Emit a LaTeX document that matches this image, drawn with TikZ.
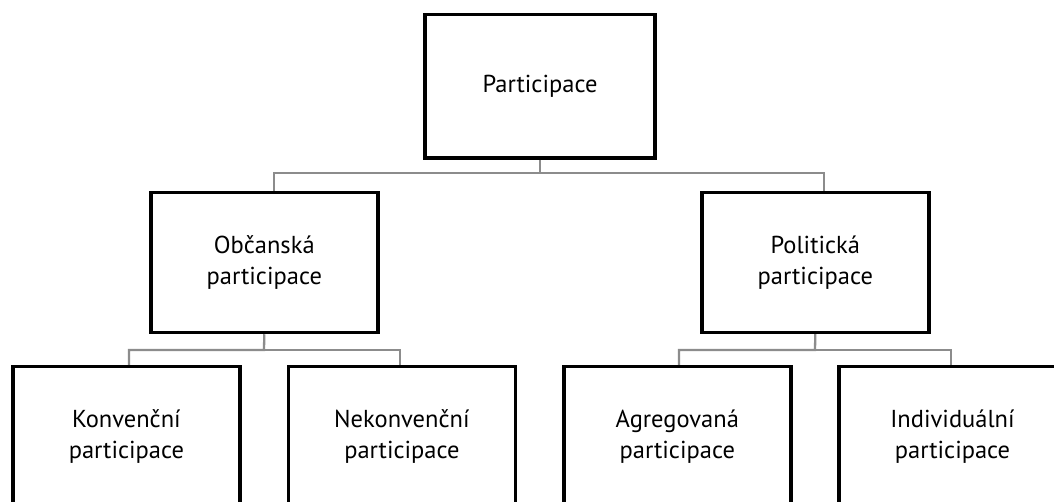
\documentclass[tikz,border=0pt]{standalone}
\usepackage{fontspec}
\setmainfont{PT Sans}
\begin{document}
\begin{tikzpicture}[x=1pt,y=-1pt,
  box/.style={draw=black, line width=3.5pt, fill=white, inner sep=0pt,
    minimum width=227pt, minimum height=140pt, align=center,
    font=\fontsize{24.5}{31.5}\selectfont},
  conn/.style={draw=black!45, line width=2.3pt}]
\useasboundingbox (0,0) rectangle (1054,502);
\clip (0,0) rectangle (1054,502);
\fill[white] (0,0) rectangle (1054,502);
\coordinate (j0) at (540,173);
\coordinate (j1) at (264,350);
\coordinate (j2) at (815,350);
\node[box, minimum width=230pt, minimum height=143.5pt] (top) at (540,86.5) {Participace};
\node[box] (obc) at (264.3,262.5) {Občanská\\participace};
\node[box] (pol) at (815.3,262.4) {Politická\\participace};
\node[box] (kon) at (126.4,436.5) {Konvenční\\participace};
\node[box] (nek) at (401.9,436.5) {Nekonvenční\\participace};
\node[box] (agr) at (677.3,436.5) {Agregovaná\\participace};
\node[box] (ind) at (952.5,436.5) {Individuální\\participace};
\draw[conn] (top.south) -- (j0) -| ([xshift=9.7pt]obc.north);
\draw[conn] (j0) -| ([xshift=8.7pt]pol.north);
\draw[conn] (obc.south) -- (j1) -| ([xshift=2.6pt]kon.north);
\draw[conn] (j1) -| ([xshift=-1.9pt]nek.north);
\draw[conn] (pol.south) -- (j2) -| ([xshift=1.7pt]agr.north);
\draw[conn] (j2) -| ([xshift=-1.5pt]ind.north);
\end{tikzpicture}
\end{document}
